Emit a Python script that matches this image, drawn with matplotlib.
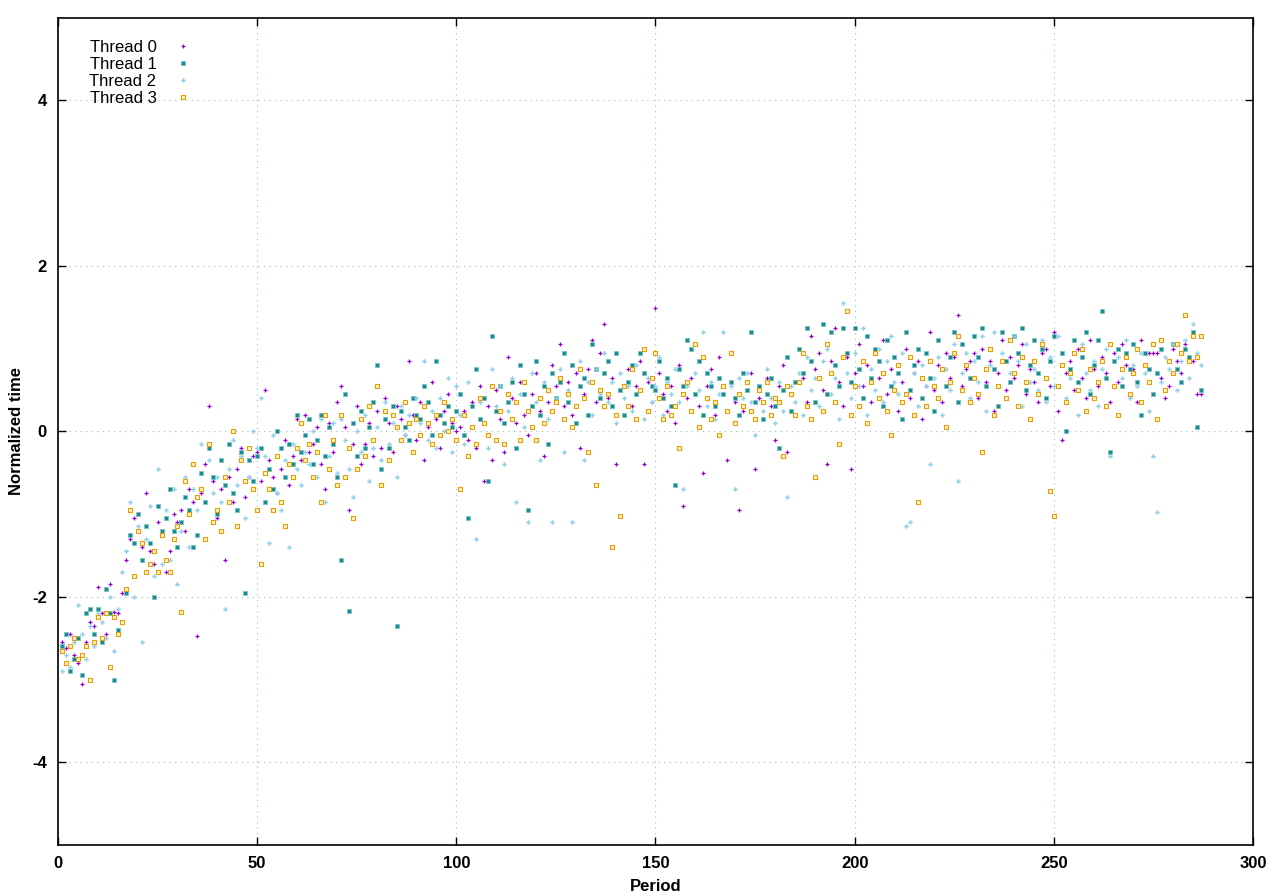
import matplotlib
matplotlib.use("Agg")
import matplotlib.pyplot as plt
import numpy as np

plt.rcParams['font.family'] = ['Liberation Sans', 'DejaVu Sans']
plt.rcParams['axes.unicode_minus'] = False

labels = ["Thread 0", "Thread 1", "Thread 2", "Thread 3"]

thread0 = [
    -2.55, -2.62, -2.45, -2.70, -2.80, -3.05, -2.55, -2.30, -2.35, -1.88,
    -2.20, -2.45, -1.85, -2.18, -2.20, -1.95, -1.55, -1.30, -1.05, -1.20,
    -1.40, -0.75, -1.45, -1.60, -1.10, -1.25, -1.70, -1.45, -1.00, -1.10,
    -0.95, -1.20, -0.70, -0.85, -2.48, -0.75, -0.40, 0.30, -0.60, -1.05,
    -0.70, -1.55, -0.55, -0.85, -0.45, -0.20, -0.80, -0.55, -0.30, -0.25,
    -0.60, 0.50, -0.35, -0.55, -0.75, -0.45, -0.10, -0.65, -0.30, 0.15,
    -0.35, 0.20, -0.25, -0.15, 0.05, -0.40, -0.70, 0.10, -0.25, 0.35,
    0.55, 0.05, -0.95, -0.15, 0.30, -0.40, -0.15, 0.10, -0.30, 0.25,
    -0.20, 0.40, 0.10, -0.25, 0.30, 0.15, -0.05, 0.85, 0.20, -0.10,
    0.35, -0.35, 0.05, 0.60, 0.15, -0.20, 0.25, 0.45, 0.10, 0.00,
    0.05, 0.25, -0.10, 0.35, -0.20, 0.55, -0.60, 0.30, -0.35, 0.50,
    0.15, -0.25, 0.90, 0.40, 0.10, 0.60, 0.20, -0.05, 0.45, 0.70,
    0.25, -0.30, 0.35, 0.80, 0.55, 1.05, 0.30, 0.60, 0.20, 0.70,
    -0.20, 0.45, 0.75, 1.10, 0.35, 0.95, 1.30, 0.40, 0.65, -0.40,
    0.50, 0.20, 0.75, 0.30, 0.55, 0.85, -0.40, 0.60, 0.35, 1.49,
    0.70, 0.45, 0.25, 0.55, 0.10, 0.80, -0.90, 0.40, 0.65, 1.05,
    0.30, -0.50, 0.55, 0.75, 0.20, 0.90, 0.45, -0.35, 0.60, 0.35,
    -0.95, 0.25, 0.50, 0.70, -0.45, 0.40, 0.15, 0.65, 0.30, -0.10,
    0.55, 0.80, -0.25, 0.45, 0.20, 1.00, 0.65, 0.35, 1.15, 0.75,
    0.95, 0.50, -0.40, 0.85, 1.25, 0.60, 0.30, 0.90, -0.45, 0.70,
    1.05, 0.55, 0.80, 0.35, 0.95, 0.65, 1.10, 0.45, 0.75, 0.90,
    0.25, 0.60, 1.00, 0.40, 0.70, 0.85, 0.15, 0.55, 1.20, 0.50,
    0.80, 0.35, 0.95, 0.65, 0.90, 1.40, 0.55, 0.75, 0.85, 0.95,
    0.40, 1.00, 0.60, 0.85, 0.25, 0.70, 1.10, 0.50, 0.90, 0.65,
    0.80, 1.05, 0.45, 0.75, 0.60, 0.35, 0.95, 1.00, 0.55, 1.20,
    0.25, -0.10, 0.70, 0.85, 0.50, 1.00, 0.65, 0.40, 1.10, 0.75,
    0.55, 0.90, 0.70, 0.35, 0.95, 0.60, 1.05, 0.80, 0.45, 0.75,
    0.35, 1.10, 0.95, 0.95, 0.95, 0.95, 0.65, 0.40, 0.55, 1.00,
    0.85, 0.70, 1.05, 0.90, 0.85, 0.45, 0.45,
]

thread1 = [
    -2.60, -2.45, -2.90, -2.75, -2.50, -2.95, -2.20, -2.15, -2.45, -2.15,
    -2.55, -1.90, -2.20, -3.00, -2.40, -2.30, -1.95, -1.25, -1.35, -1.00,
    -1.55, -1.15, -1.35, -2.00, -0.90, -1.20, -1.05, -0.70, -1.20, -1.40,
    -1.10, -0.80, -0.95, -1.40, -1.25, -0.50, -0.85, -0.20, -0.55, -1.00,
    -0.35, -0.65, -0.15, -0.75, -0.95, -0.25, -1.95, -0.35, -0.60, -0.30,
    -0.20, -0.85, -0.45, -0.70, 0.00, -0.20, -0.55, -0.15, -0.40, 0.20,
    -0.25, -0.05, 0.15, -0.40, -0.10, 0.20, -0.30, 0.05, -0.15, -0.55,
    -1.55, 0.45, -2.17, 0.10, -0.30, 0.25, -0.20, 0.05, 0.35, 0.80,
    -0.45, 0.15, -0.20, 0.30, -2.35, 0.25, 0.05, -0.10, 0.40, 0.20,
    0.15, 0.55, 0.35, -0.05, 0.85, 0.20, 0.10, 0.30, 0.05, 0.25,
    0.45, -0.05, -1.05, 0.30, 0.75, 0.15, 0.40, -0.60, 1.15, 0.25,
    0.55, 0.10, 0.35, 0.60, -0.20, 0.80, 0.45, -0.95, 0.30, 0.85,
    0.20, 0.55, -0.15, 0.70, 0.40, 0.60, 0.95, 0.35, 0.80, 0.10,
    0.55, 0.65, 0.20, 1.05, 0.75, 0.40, 0.70, 0.85, 0.30, 0.95,
    0.50, 0.20, 0.60, 0.80, 0.45, 0.95, 0.70, 0.25, 0.55, 0.50,
    0.85, 0.40, 0.65, 0.30, -0.65, 0.75, 0.55, 1.10, 1.00, 0.45,
    0.85, 0.20, 0.70, 0.55, 0.30, 0.65, 0.45, 0.25, 0.60, 0.40,
    0.20, 0.70, 0.50, 1.20, 0.35, 0.55, 0.15, 0.45, 0.65, 0.30,
    -0.20, 0.50, 0.90, 0.25, 0.60, 1.00, 0.70, 1.25, 0.85, 0.35,
    0.65, 1.30, 0.45, 1.20, 0.80, 0.55, 1.25, 0.95, 0.60, 1.25,
    0.75, 0.40, 1.15, 0.65, 1.00, 0.85, 0.30, 1.10, 0.55, 0.90,
    0.70, 0.15, 1.20, 0.50, 0.80, 1.00, 0.40, 0.95, 0.65, 0.25,
    1.10, 0.75, 0.55, 0.90, 1.20, 0.35, 1.05, 0.80, 0.65, 1.15,
    0.90, 1.25, 0.55, 1.00, 0.75, 0.30, 1.20, 0.85, 0.60, 1.15,
    0.95, 1.25, 0.50, 0.80, 1.10, 0.70, 1.00, 0.40, 0.85, 1.15,
    0.55, 0.95, 0.00, 0.75, 1.10, 0.60, 0.90, 1.20, 0.45, 0.80,
    1.10, 1.45, 0.65, -0.25, 0.85, 1.00, 0.55, 0.95, 0.75, 1.05,
    0.60, 0.20, 0.95, 0.75, 0.45, 0.70, 1.00, 0.50, 0.85, 1.05,
    0.75, 0.60, 1.00, 0.90, 1.20, 0.05, 0.50,
]

thread2 = [
    -2.90, -2.70, -2.85, -2.55, -2.10, -2.45, -2.75, -2.35, -2.60, -2.20,
    -2.30, -2.50, -2.00, -2.65, -2.15, -1.70, -1.45, -0.85, -2.00, -1.15,
    -2.55, -1.30, -0.90, -1.75, -0.45, -1.60, -0.95, -1.55, -0.70, -1.85,
    -1.20, -0.55, -1.40, -0.70, -0.95, -0.15, -1.30, -0.35, -0.75, -0.55,
    -0.85, -2.15, -0.45, -0.10, -0.65, -0.30, -1.05, -0.55, 0.00, -0.20,
    0.40, -0.30, -1.35, -0.05, -0.75, -0.95, -0.35, -1.40, -0.15, -0.45,
    -0.65, -0.25, -0.40, 0.00, -0.55, 0.15, -0.85, -0.30, 0.10, -0.50,
    0.15, -0.10, -0.45, -0.80, 0.00, -0.25, 0.20, -0.60, -0.20, 0.05,
    -0.35, 0.35, -0.15, 0.10, -0.55, 0.30, -0.05, 0.20, -0.25, 0.40,
    0.10, 0.85, -0.10, 0.25, -0.20, 0.40, 0.00, 0.65, -0.25, 0.55,
    0.20, -0.15, 0.60, 0.05, -1.30, 0.35, 0.10, -0.20, 0.75, 0.30,
    0.55, -0.40, 0.25, 0.65, -0.85, 0.45, 0.05, -1.10, 0.70, 0.35,
    -0.35, 0.60, 0.15, -1.10, 0.40, 0.75, -0.25, 0.50, -1.10, 0.30,
    0.85, -0.35, 0.60, 0.20, 0.75, 0.45, 0.95, 0.35, 0.60, 0.10,
    0.70, 0.40, 0.55, 0.25, 0.80, 0.50, 0.15, 0.65, 0.35, 0.55,
    0.90, 0.20, 0.60, 0.45, 0.75, 0.35, -0.70, 0.55, 0.25, 0.70,
    0.50, 1.20, 0.30, 0.60, 0.15, 0.45, 1.20, 0.25, 0.55, -0.70,
    0.65, 0.40, 0.70, 0.35, -0.05, 0.50, 0.25, 0.75, 0.40, 0.10,
    0.60, 0.25, -0.80, 0.55, 0.35, 0.70, 0.20, 0.90, 0.50, 0.65,
    0.30, 0.85, 1.00, 0.45, 0.65, 0.15, 1.55, 0.70, 0.40, 0.95,
    0.55, 1.25, 0.20, 0.75, 0.50, 1.00, 0.35, 0.85, 1.15, 0.60,
    0.45, 0.95, -1.15, -1.10, 0.70, 0.30, 0.80, 0.55, -0.40, 0.65,
    0.90, 0.20, 0.75, 0.50, 1.05, -0.60, 0.70, 0.95, 0.40, 0.85,
    0.60, 1.15, 0.25, 0.80, 1.20, 0.55, 0.95, 0.40, 0.70, 1.15,
    0.85, 0.30, 1.05, 0.60, 0.75, 0.50, 1.10, 0.35, 0.90, 0.55,
    1.15, 0.80, 0.40, 0.65, 0.95, 0.20, 1.05, 0.70, 0.50, 0.85,
    0.30, 0.75, 1.00, -0.30, 0.55, 0.90, 0.65, 1.10, 0.40, 0.80,
    0.55, 0.95, 0.70, 0.25, -0.30, -0.98, 0.60, 0.90, 0.75, 1.05,
    0.50, 0.85, 1.10, 0.65, 1.30, 0.95, 0.80,
]

thread3 = [
    -2.65, -2.80, -2.60, -2.50, -2.75, -2.70, -2.60, -3.00, -2.55, -2.25,
    -2.50, -2.20, -2.85, -2.25, -2.45, -2.30, -1.90, -0.95, -1.75, -1.20,
    -1.35, -1.70, -1.60, -1.45, -1.70, -1.25, -1.55, -1.70, -1.30, -1.15,
    -2.18, -0.60, -1.00, -0.40, -0.80, -0.70, -1.30, -0.15, -1.10, -0.95,
    -1.20, -0.55, -0.85, 0.00, -1.15, -0.35, -0.60, -0.20, -0.70, -0.95,
    -1.60, -0.50, -0.70, -0.95, -0.30, -0.85, -1.15, -0.40, -0.55, -0.20,
    0.10, -0.35, -0.15, -0.55, -0.25, -0.85, 0.20, -0.45, -0.10, -0.65,
    0.20, -0.55, -0.20, -1.05, -0.45, 0.15, -0.30, 0.30, -0.10, 0.55,
    -0.65, 0.25, -0.35, 0.20, 0.05, -0.10, 0.35, 0.10, -0.25, 0.15,
    -0.05, 0.30, 0.10, -0.15, 0.20, -0.05, 0.35, 0.00, 0.15, -0.10,
    -0.70, 0.20, -0.30, 0.05, -0.15, 0.40, 0.10, -0.05, 0.55, -0.10,
    0.25, -0.15, 0.45, 0.15, 0.35, -0.10, 0.60, 0.25, 0.05, -0.10,
    0.40, 0.10, 0.50, 0.25, 0.35, 0.65, 0.15, 0.45, 0.05, 0.30,
    0.75, 0.40, -0.25, 0.60, -0.65, 0.50, 0.30, 0.45, -1.40, 0.20,
    -1.02, 0.55, 0.30, 0.75, 0.15, 0.50, 1.00, 0.25, 0.65, 0.95,
    0.40, 0.15, 0.55, 0.20, 0.30, -0.20, 0.45, 0.60, 0.25, 1.05,
    0.05, 0.90, 0.40, 0.15, 0.35, -0.05, 0.55, 0.25, 0.95, 0.10,
    0.45, 0.30, 0.60, 0.25, 0.15, 0.50, 0.35, 0.60, 0.20, 0.40,
    0.35, -0.30, 0.55, 0.45, 0.20, 0.60, 0.95, 0.30, 0.15, -0.55,
    0.65, 0.25, 1.05, 0.70, 0.35, -0.15, 0.90, 1.45, 0.20, 0.55,
    0.30, 0.85, 0.10, 0.60, 0.95, 0.40, 0.70, 0.25, -0.05, 0.50,
    0.80, 0.35, 0.45, 0.90, 0.20, -0.85, 0.65, 0.30, 0.85, 0.55,
    0.40, 0.75, 0.05, 0.60, 0.95, 1.15, 0.50, 0.80, 0.35, 0.65,
    0.45, -0.25, 0.75, 1.00, 0.20, 0.55, 0.85, 0.40, 1.10, 0.70,
    0.30, 0.90, 0.60, 0.15, 0.85, 0.45, 1.05, 0.65, -0.72, -1.02,
    0.55, 0.80, 0.35, 0.70, 0.95, 0.50, 1.00, 0.25, 0.75, 0.40,
    0.60, 0.85, 0.30, 1.05, 0.55, 0.20, 0.75, 0.90, 0.45, 0.70,
    1.00, 0.35, 0.80, 0.60, 1.05, 0.15, 1.10, 0.50, 0.85, 0.70,
    1.05, 0.95, 1.40, 0.85, 1.15, 0.90, 1.15,
]

periods = np.arange(1, len(thread0) + 1)

fig = plt.figure(figsize=(12.8, 8.96), dpi=100)
ax = fig.add_axes([0.0453, 0.0569, 0.9336, 0.9235])

# gnuplot-like point styles
ax.plot(periods, thread0, linestyle="none", marker="+", ms=3.2, mew=0.9,
        color="#9400d3", label=labels[0])
ax.plot(periods, thread1, linestyle="none", marker="s", ms=2.8, mew=0.7,
        markerfacecolor="#1a8a8a", markeredgecolor="#7cc4c8", label=labels[1])
ax.plot(periods, thread2, linestyle="none", marker="P", ms=3.3, mew=0,
        color="#8fd0e6", label=labels[2])
ax.plot(periods, thread3, linestyle="none", marker="s", ms=2.7, mew=0.8,
        markerfacecolor="#fff2cc", markeredgecolor="#e69f00", label=labels[3])

ax.set_xlim(0, 300)
ax.set_ylim(-5, 5)
ax.set_xticks(np.arange(0, 301, 50))
ax.set_yticks([-4, -2, 0, 2, 4])
ax.grid(True, linestyle=(0, (1, 4)), color="#a0b8c0", linewidth=0.8)
ax.tick_params(direction="in", length=6, width=1, top=True, right=True,
               labelsize=12, pad=8)
for lab in ax.get_xticklabels() + ax.get_yticklabels():
    lab.set_fontweight("bold")
for s in ax.spines.values():
    s.set_linewidth(1.2)

ax.set_xlabel("Period", fontsize=12, fontweight="bold", labelpad=6)
ax.set_ylabel("Normalized time", fontsize=12, fontweight="bold", labelpad=6)

ax.legend(loc="upper left", bbox_to_anchor=(0.018, 0.985), frameon=False,
          markerfirst=False, fontsize=12, handlelength=1.0, handletextpad=1.1,
          labelspacing=0.12, borderaxespad=0.2)

fig.savefig("out.png", dpi=100)
